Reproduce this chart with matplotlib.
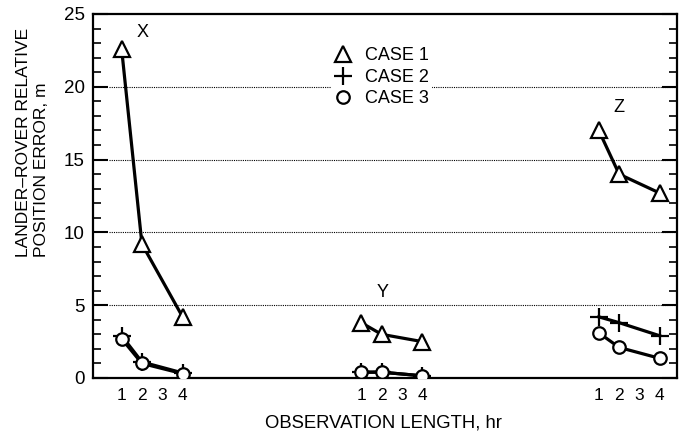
import matplotlib.pyplot as plt
import numpy as np
from matplotlib.lines import Line2D
from matplotlib.ticker import MultipleLocator

plt.rcParams['font.family'] = ['Liberation Sans', 'DejaVu Sans']

# observation length (hr) where each case was evaluated
hours = [1, 2, 4]
tick_hours = [1, 2, 3, 4]
groups = ['X', 'Y', 'Z']
group_offset = [0, 11.8, 23.5]   # where each component's block sits on the axis

case1_x = [22.6, 9.2, 4.2]
case1_y = [3.8, 3.0, 2.5]
case1_z = [17.0, 14.0, 12.7]

case2_x = [2.9, 1.1, 0.35]
case2_y = [0.4, 0.4, 0.15]
case2_z = [4.2, 3.8, 2.9]

case3_x = [2.7, 1.0, 0.3]
case3_y = [0.4, 0.4, 0.15]
case3_z = [3.1, 2.1, 1.35]

case_names = ['CASE 1', 'CASE 2', 'CASE 3']
case_data = [[case1_x, case1_y, case1_z],
             [case2_x, case2_y, case2_z],
             [case3_x, case3_y, case3_z]]
case_markers = ['^', '+', 'o']
case_msize = [11, 13, 9]

fig = plt.figure(figsize=(6.81, 4.34), dpi=100)
ax = fig.add_axes([93/681, 1 - 378/434, 584/681, 364/434])

for c in range(3):
    for g in range(3):
        xs = np.array(hours) + group_offset[g]
        ax.plot(xs, case_data[c][g], color='black', lw=2.3,
                marker=case_markers[c], ms=case_msize[c],
                mfc='white', mec='black', mew=1.6, zorder=3)

ax.set_xlim(-0.41, 28.35)
ax.set_ylim(0, 25)

# x ticks: 1..4 under each block
xt = [h + off for off in group_offset for h in tick_hours]
ax.set_xticks(xt)
ax.set_xticklabels([str(h) for _ in group_offset for h in tick_hours], fontsize=12.5)
ax.tick_params(axis='x', length=0, pad=7)

ax.yaxis.set_major_locator(MultipleLocator(5))
ax.yaxis.set_minor_locator(MultipleLocator(1))
ax.tick_params(axis='y', which='major', direction='in', length=11, width=1.5,
               left=True, right=True, labelsize=13.5, pad=6)
ax.tick_params(axis='y', which='minor', direction='in', length=6, width=1.2,
               left=True, right=True)

for s in ax.spines.values():
    s.set_linewidth(1.6)

for yv in [5, 10, 15, 20]:
    ax.axhline(yv, xmin=0.027, color='black', lw=0.8, ls=(0, (1, 1)), zorder=1)

# component labels
ax.text(2.05, 23.7, 'X', fontsize=13, ha='center', va='center')
ax.text(13.87, 5.9, 'Y', fontsize=13, ha='center', va='center')
ax.text(25.5, 18.6, 'Z', fontsize=13, ha='center', va='center')

handles = [Line2D([], [], ls='none', marker=case_markers[c], ms=case_msize[c],
                  mfc='white', mec='black', mew=1.6) for c in range(3)]
leg = ax.legend(handles, case_names, loc='center', bbox_to_anchor=(0.494, 0.826),
                frameon=True, fontsize=13, numpoints=1, handlelength=1.0,
                handletextpad=0.7, labelspacing=0.25, borderpad=0.2)
leg.get_frame().set_facecolor('white')
leg.get_frame().set_edgecolor('none')
leg.get_frame().set_alpha(1)
leg.set_zorder(4)

fig.text(0.047, 1 - 142/434, 'LANDER\u2013ROVER RELATIVE\nPOSITION ERROR, m',
         rotation=90, ha='center', va='center', multialignment='left',
         fontsize=12.5, linespacing=1.25)
fig.text(383/681, 1 - 423/434, 'OBSERVATION LENGTH, hr', ha='center', va='center',
         fontsize=13.3)

fig.savefig('out.png', dpi=100)
